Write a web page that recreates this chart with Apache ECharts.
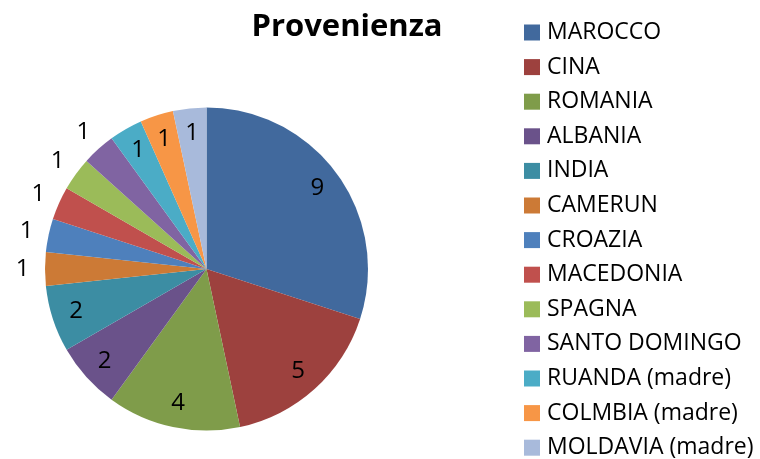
<!DOCTYPE html>
<html>
<head>
<meta charset="utf-8">
<script src="https://cdn.jsdelivr.net/npm/echarts@6/dist/echarts.min.js"></script>
<style>
  html, body { margin: 0; padding: 0; background: #fff; }
  #pieChart { width: 760px; height: 459px; }
</style>
</head>
<body>
<div id="pieChart"></div>
<script>
// chart data
const categories = [
  "MAROCCO", "CINA", "ROMANIA", "ALBANIA", "INDIA", "CAMERUN", "CROAZIA",
  "MACEDONIA", "SPAGNA", "SANTO DOMINGO", "RUANDA (madre)", "COLMBIA (madre)",
  "MOLDAVIA (madre)"
];
const values = [9, 5, 4, 2, 2, 1, 1, 1, 1, 1, 1, 1, 1];
const colors = [
  "#41699d", "#9d413e", "#7f9c4a", "#6a528a", "#3c8da3", "#cc7a36", "#4e80bc",
  "#c0504d", "#9bbb59", "#8064a2", "#4bacc6", "#f79646", "#a8badb"
];
// slices whose value label sits outside the pie
const outsideLabels = ["CAMERUN", "CROAZIA", "MACEDONIA", "SPAGNA", "SANTO DOMINGO"];

const center = [206.5, 269];
const radius = 161.5;
const labelFont = "'Open Sans', sans-serif";

let myChart = echarts.init(document.getElementById("pieChart"));

const mainData = categories.map((name, i) => ({
  name: name,
  value: values[i],
  itemStyle: { color: colors[i] }
}));

// transparent copies of the pie, only used to put the value labels at the right distance
function labelData(outside) {
  return categories.map((name, i) => ({
    name: name,
    value: values[i],
    label: { show: outsideLabels.includes(name) === outside }
  }));
}

function labelSeries(r, outside) {
  return {
    type: "pie",
    silent: true,
    center: center,
    radius: [0, r * 2],
    avoidLabelOverlap: false,
    itemStyle: { color: "rgba(0,0,0,0)" },
    label: {
      position: "inside",
      color: "#000",
      fontSize: 24,
      fontFamily: labelFont,
      formatter: "{c}"
    },
    labelLine: { show: false },
    emphasis: { disabled: true },
    data: labelData(outside),
    z: 3
  };
}

const option = {
  animation: false,
  color: colors,
  title: {
    text: "Provenienza",
    left: 342,
    textAlign: "center",
    top: 7,
    textStyle: {
      fontFamily: labelFont,
      fontWeight: "bold",
      fontSize: 31,
      color: "#000"
    }
  },
  legend: {
    orient: "vertical",
    left: 524,
    top: 21,
    height: 460,
    padding: 0,
    data: categories,
    icon: "rect",
    itemWidth: 16,
    itemHeight: 16,
    itemGap: 11.6,
    textStyle: {
      fontFamily: labelFont,
      fontSize: 23,
      color: "#000",
      padding: [0, 0, 0, 2]
    }
  },
  series: [
    {
      type: "pie",
      center: center,
      radius: [0, radius],
      startAngle: 90,
      clockwise: true,
      label: { show: false },
      labelLine: { show: false },
      data: mainData
    },
    labelSeries(134, false),
    labelSeries(181, true)
  ]
};

myChart.setOption(option);
</script>
</body>
</html>
